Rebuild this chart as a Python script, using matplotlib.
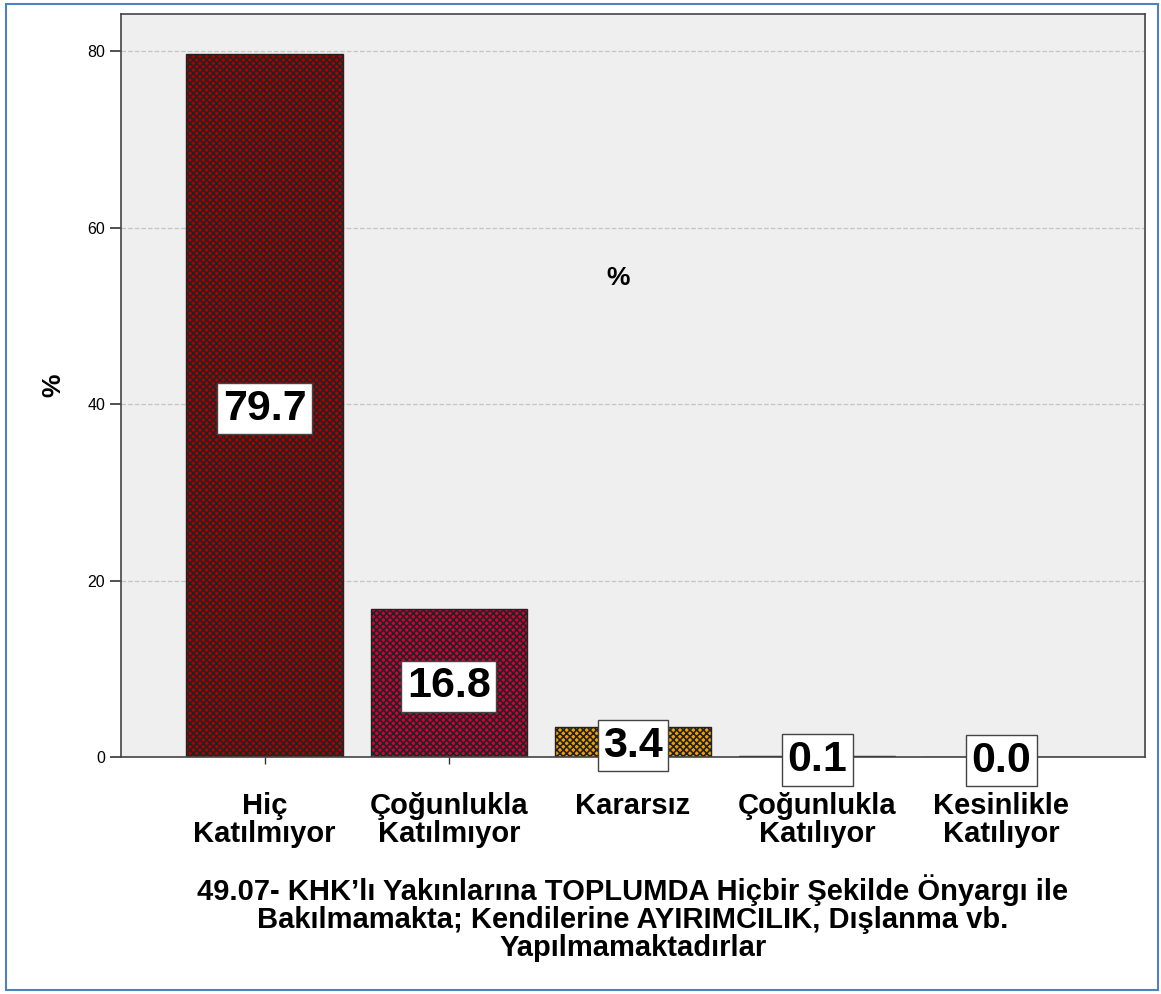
import matplotlib.pyplot as plt
from matplotlib.patches import Rectangle

# data
categories = ['Hiç\nKatılmıyor', 'Çoğunlukla\nKatılmıyor', 'Kararsız',
              'Çoğunlukla\nKatılıyor', 'Kesinlikle\nKatılıyor']
values = [79.7, 16.8, 3.4, 0.1, 0.0]
bar_colors = ['#b00000', '#d4003a', '#f0a000', '#f0a000', '#f0a000']
yticks = [0, 20, 40, 60, 80]
xlabel = ('49.07- KHK\u2019lı Yakınlarına TOPLUMDA Hiçbir Şekilde Önyargı ile\n'
          'Bakılmamakta; Kendilerine AYIRIMCILIK, Dışlanma vb.\n'
          'Yapılmamaktadırlar')

plt.rcParams['font.family'] = ['Liberation Sans', 'DejaVu Sans']
plt.rcParams['hatch.linewidth'] = 1.2
plt.rcParams['hatch.color'] = 'black'

fig = plt.figure(figsize=(11.61, 9.94), dpi=100)
ax = fig.add_axes([121 / 1161, 1 - 757 / 994, 1024 / 1161, 743 / 994])
ax.set_facecolor('#efefef')

x = list(range(len(values)))
ax.bar(x, values, width=0.85, color=bar_colors, edgecolor='#222222',
       linewidth=1.0, hatch='xxxxx', zorder=2)

# value labels in white boxes
for xi, v in zip(x, values):
    ax.text(xi, v / 2 - 0.4, f'{v:.1f}', ha='center', va='center', fontsize=31,
            fontweight='bold', zorder=4,
            bbox=dict(boxstyle='square,pad=0.13', facecolor='white',
                      edgecolor='#444444', linewidth=1.0))

ax.set_xlim(-0.78, 4.78)
ax.set_ylim(0, 84.2)
ax.set_yticks(yticks)
ax.tick_params(axis='y', labelsize=11.5, length=8, width=1.2, color='#333333')
ax.tick_params(axis='x', labelsize=21, length=5, width=1, pad=20, color='#333333')
ax.set_xticks(x)
ax.set_xticklabels(categories, fontweight='bold', linespacing=1.0)
ax.yaxis.grid(True, linestyle='--', color='#c4c4c4', linewidth=0.9, zorder=1)
ax.set_axisbelow(True)
for s in ax.spines.values():
    s.set_color('#444444')
    s.set_linewidth(1.2)

ax.set_ylabel('%', fontsize=19, fontweight='bold', labelpad=16)
ax.set_xlabel(xlabel, fontsize=21, fontweight='bold', linespacing=1.0, labelpad=19)
ax.text(0.485, 0.645, '%', transform=ax.transAxes, ha='center', va='center',
        fontsize=19, fontweight='bold')

# blue outer frame
fig.patches.append(Rectangle((6 / 1161, 4 / 994), 1152 / 1161, 986 / 994,
                             transform=fig.transFigure, fill=False,
                             edgecolor='#4f81bd', linewidth=1.5))

fig.savefig('out.png', dpi=100)
